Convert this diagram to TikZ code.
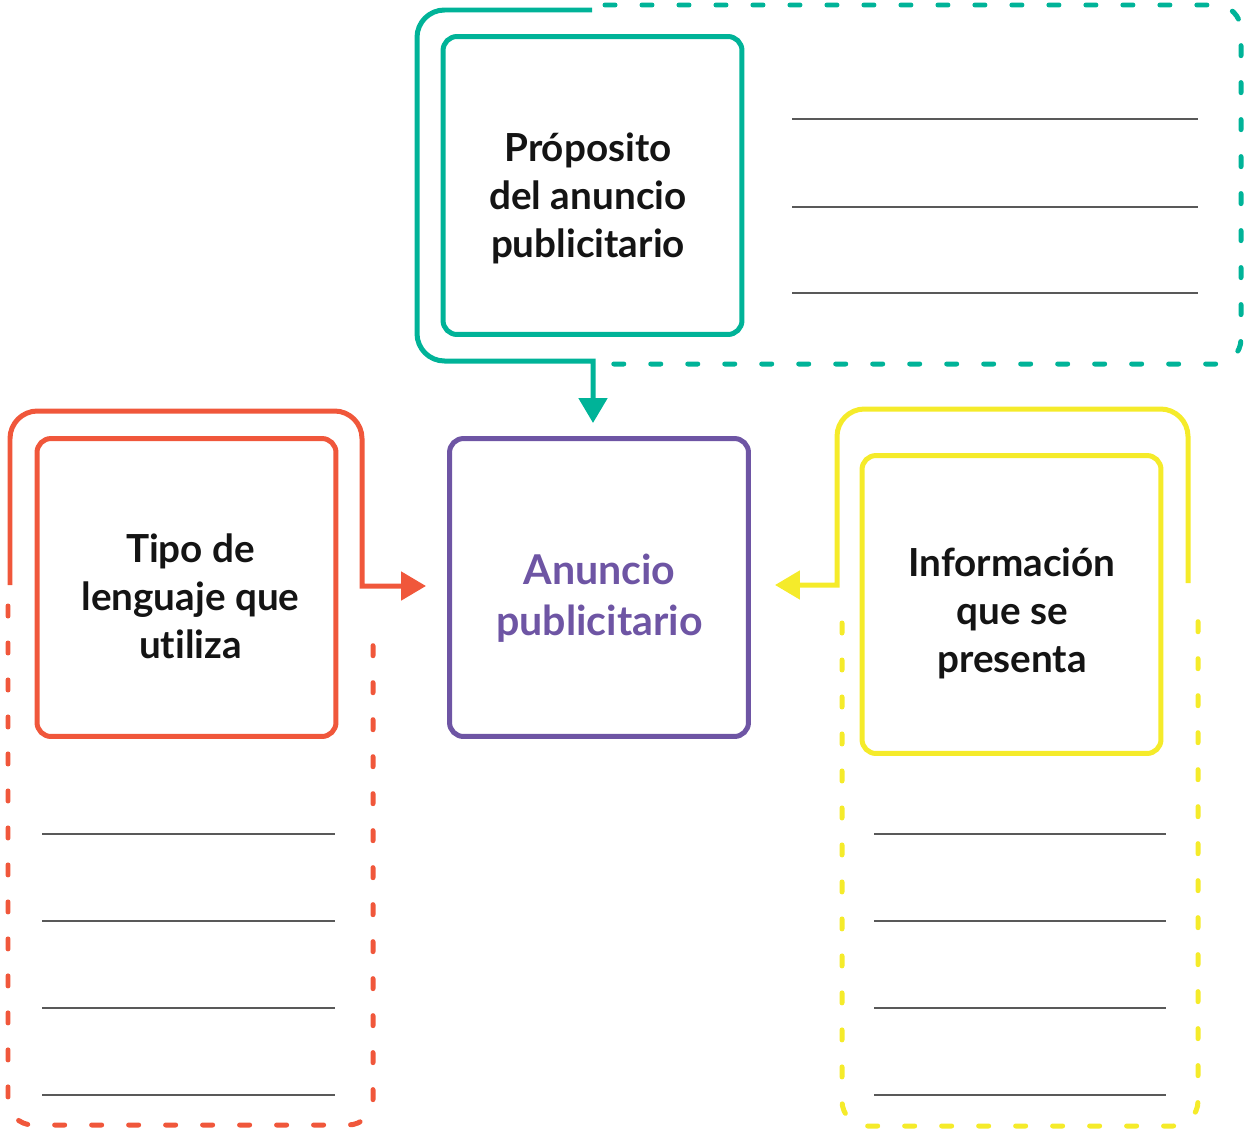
\documentclass[tikz,border=0pt]{standalone}
\usepackage{fontspec}
\setmainfont{Lato}[Ligatures=NoCommon]
\usetikzlibrary{arrows.meta}
\definecolor{cteal}{HTML}{00B398}
\definecolor{cred}{HTML}{F0573B}
\definecolor{cpurple}{HTML}{6E55A4}
\definecolor{cyellow}{HTML}{F5EB2A}
\begin{document}
\begin{tikzpicture}[x=0.02cm,y=-0.02cm,
  box/.style={draw, line width=0.1cm, rounded corners=0.28cm, minimum width=5.98cm,
    minimum height=5.96cm, inner sep=0pt},
  lbl/.style={align=center, inner sep=0pt,
    font=\fontsize{22}{27.2}\selectfont\bfseries, text=black!92},
  outer/.style={line width=0.1cm, rounded corners=0.55cm},
  dashline/.style={line width=0.1cm, rounded corners=0.5cm, dash pattern=on 0.2cm off 0.54cm, line cap=round},
  tip/.style={-{Triangle[width=0.56cm,length=0.5cm]}},
  blank/.style={draw=black!65, line width=0.025cm}]
\useasboundingbox (0,0) rectangle (1244,1129);

% boxes
\node[box, draw=cteal] (prop) at (592.5,185.5) {};
\node[box, draw=cred] (tipo) at (186.5,587.5) {};
\node[box, draw=cpurple] (anun) at (599,587.5) {};
\node[box, draw=cyellow] (info) at (1011.5,604.5) {};

% labels
\node[lbl] (propt) at (588,198.5) {Próposito\\del anuncio\\publicitario};
\node[lbl] (tipot) at (190.5,596.5) {Tipo de\\lenguaje que\\utiliza};
\node[lbl] (infot) at (1012,613.5) {Información\\que se\\presenta};
\node[lbl, text=cpurple, font=\fontsize{23.4}{29}\selectfont\bfseries] (anunt) at (599.5,598.5) {Anuncio\\publicitario};

% connectors
\coordinate (tc) at (593,361);
\coordinate (rc) at (362,586);
\coordinate (yc) at (837,585);
\draw[outer, cteal, tip, shorten >=0.26cm] (592,10) -- (417,10) -- (417,361) [sharp corners] -- (tc) -- (tc |- anun.north);
\draw[outer, cred, tip, shorten >=0.42cm] (10,585) -- (10,411) -- (362,411) [sharp corners] -- (rc) -- (rc -| anun.west);
\draw[outer, cyellow, tip, shorten >=0.48cm] (1188,583) -- (1188,409) -- (837,409) [sharp corners] -- (yc) -- (yc -| anun.east);

% dashed surrounds
\draw[dashline, cteal] (605,5) -- (1241,5) -- (1241,364) -- (612,364);
\draw[dashline, cred] (8,606) -- (8,1125) -- (373,1125) -- (373,628);
\draw[dashline, cyellow] (842,623) -- (842,1126) -- (1198,1126) -- (1198,603);

% answer lines
\foreach \yy in {119,207,293} \draw[blank] (792,\yy) -- (1198,\yy);
\foreach \yy in {834,921,1008,1095} \draw[blank] (42,\yy) -- (335,\yy);
\foreach \yy in {834,921,1008,1095} \draw[blank] (874,\yy) -- (1166,\yy);
\end{tikzpicture}
\end{document}
